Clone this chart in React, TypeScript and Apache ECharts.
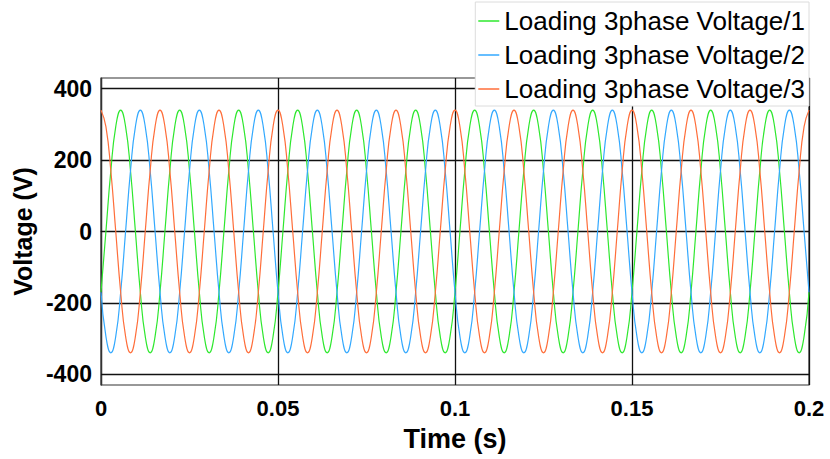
import React, { useEffect, useRef } from "react";
import * as echarts from "echarts";

// Sampling interval of the recorded waveform (s) – one sample every 30° at 60 Hz
const sampleStep = 1 / 720;

const seriesNames = [
  "Loading 3phase Voltage/1",
  "Loading 3phase Voltage/2",
  "Loading 3phase Voltage/3",
];

// Phase 1 (green) voltage samples, V
const voltage1 = [
  -170, 0, 170, 294, 340, 294, 170, 0, -170, -294, -340, -294,
  -170, 0, 170, 294, 340, 294, 170, 0, -170, -294, -340, -294,
  -170, 0, 170, 294, 340, 294, 170, 0, -170, -294, -340, -294,
  -170, 0, 170, 294, 340, 294, 170, 0, -170, -294, -340, -294,
  -170, 0, 170, 294, 340, 294, 170, 0, -170, -294, -340, -294,
  -170, 0, 170, 294, 340, 294, 170, 0, -170, -294, -340, -294,
  -170, 0, 170, 294, 340, 294, 170, 0, -170, -294, -340, -294,
  -170, 0, 170, 294, 340, 294, 170, 0, -170, -294, -340, -294,
  -170, 0, 170, 294, 340, 294, 170, 0, -170, -294, -340, -294,
  -170, 0, 170, 294, 340, 294, 170, 0, -170, -294, -340, -294,
  -170, 0, 170, 294, 340, 294, 170, 0, -170, -294, -340, -294,
  -170, 0, 170, 294, 340, 294, 170, 0, -170, -294, -340, -294,
  -170,
];

// Phase 2 (blue) voltage samples, V
const voltage2 = [
  -170, -294, -340, -294, -170, 0, 170, 294, 340, 294, 170, 0,
  -170, -294, -340, -294, -170, 0, 170, 294, 340, 294, 170, 0,
  -170, -294, -340, -294, -170, 0, 170, 294, 340, 294, 170, 0,
  -170, -294, -340, -294, -170, 0, 170, 294, 340, 294, 170, 0,
  -170, -294, -340, -294, -170, 0, 170, 294, 340, 294, 170, 0,
  -170, -294, -340, -294, -170, 0, 170, 294, 340, 294, 170, 0,
  -170, -294, -340, -294, -170, 0, 170, 294, 340, 294, 170, 0,
  -170, -294, -340, -294, -170, 0, 170, 294, 340, 294, 170, 0,
  -170, -294, -340, -294, -170, 0, 170, 294, 340, 294, 170, 0,
  -170, -294, -340, -294, -170, 0, 170, 294, 340, 294, 170, 0,
  -170, -294, -340, -294, -170, 0, 170, 294, 340, 294, 170, 0,
  -170, -294, -340, -294, -170, 0, 170, 294, 340, 294, 170, 0,
  -170,
];

// Phase 3 (orange) voltage samples, V
const voltage3 = [
  340, 294, 170, 0, -170, -294, -340, -294, -170, 0, 170, 294,
  340, 294, 170, 0, -170, -294, -340, -294, -170, 0, 170, 294,
  340, 294, 170, 0, -170, -294, -340, -294, -170, 0, 170, 294,
  340, 294, 170, 0, -170, -294, -340, -294, -170, 0, 170, 294,
  340, 294, 170, 0, -170, -294, -340, -294, -170, 0, 170, 294,
  340, 294, 170, 0, -170, -294, -340, -294, -170, 0, 170, 294,
  340, 294, 170, 0, -170, -294, -340, -294, -170, 0, 170, 294,
  340, 294, 170, 0, -170, -294, -340, -294, -170, 0, 170, 294,
  340, 294, 170, 0, -170, -294, -340, -294, -170, 0, 170, 294,
  340, 294, 170, 0, -170, -294, -340, -294, -170, 0, 170, 294,
  340, 294, 170, 0, -170, -294, -340, -294, -170, 0, 170, 294,
  340, 294, 170, 0, -170, -294, -340, -294, -170, 0, 170, 294,
  340,
];

const yTicks = [-400, -200, 0, 200, 400];
const xTicks = [0, 0.05, 0.1, 0.15, 0.2];

const colors = ["#2ee82e", "#33a9ff", "#ff6e3a"];
const FONT = "Liberation Sans, Arial, sans-serif";

export default function App() {
  const ref = useRef<HTMLDivElement>(null);

  useEffect(() => {
    if (!ref.current) return;
    const chart = echarts.init(ref.current, null, { renderer: "svg" });
    const toPairs = (vals: number[]) =>
      vals.map((v, i) => [Number((i * sampleStep).toFixed(6)), v]);
    const all = [voltage1, voltage2, voltage3];

    chart.setOption({
      animation: false,
      backgroundColor: "#ffffff",
      textStyle: { fontFamily: FONT },
      grid: {
        left: 101,
        right: 21,
        top: 78,
        bottom: 74,
        show: true,
        borderColor: "#333",
        borderWidth: 1.2,
        backgroundColor: "transparent",
      },
      legend: {
        data: seriesNames,
        orient: "vertical",
        right: 21,
        top: 2,
        padding: [5, 4, 3, 3],
        itemWidth: 21,
        itemHeight: 1.5,
        itemGap: 6,
        icon: "rect",
        backgroundColor: "#ffffff",
        borderColor: "#dcdcdc",
        borderWidth: 1,
        textStyle: {
          fontFamily: FONT,
          fontSize: 26,
          color: "#000",
          lineHeight: 28,
        },
        z: 10,
      },
      xAxis: {
        type: "value",
        min: xTicks[0],
        max: xTicks[xTicks.length - 1],
        interval: 0.05,
        name: "Time (s)",
        nameLocation: "middle",
        nameGap: 40,
        nameTextStyle: {
          fontFamily: FONT,
          fontSize: 27,
          fontWeight: "bold",
          color: "#000",
        },
        axisLine: { show: true, lineStyle: { color: "#333", width: 1.2 } },
        axisTick: { show: false },
        axisLabel: {
          fontFamily: FONT,
          fontSize: 22,
          fontWeight: "bold",
          color: "#000",
          margin: 12,
          formatter: (v: number) => String(Number(v.toFixed(4))),
        },
        splitLine: { show: true, lineStyle: { color: "#111", width: 1.3 } },
      },
      yAxis: {
        type: "value",
        min: -430,
        max: 430,
        name: "Voltage (V)",
        nameLocation: "middle",
        nameGap: 60,
        nameTextStyle: {
          fontFamily: FONT,
          fontSize: 25,
          fontWeight: "bold",
          color: "#000",
        },
        axisLine: { show: true, lineStyle: { color: "#333", width: 1.2 } },
        axisTick: { show: false, customValues: yTicks },
        axisLabel: {
          customValues: yTicks,
          fontFamily: FONT,
          fontSize: 23,
          fontWeight: "bold",
          color: "#000",
          margin: 9,
        },
        splitLine: { show: false },
      },
      series: all.map((vals, idx) => ({
        name: seriesNames[idx],
        type: "line",
        data: toPairs(vals),
        showSymbol: false,
        smooth: 0.5,
        lineStyle: { color: colors[idx], width: 1.2 },
        itemStyle: { color: colors[idx] },
        emphasis: { disabled: true },
        z: 3 + idx,
        markLine:
          idx === 0
            ? {
                silent: true,
                symbol: "none",
                label: { show: false },
                lineStyle: { color: "#111", width: 1.3, type: "solid" },
                data: yTicks.map((y) => ({ yAxis: y })),
                z: 1,
              }
            : undefined,
      })),
    });

    return () => chart.dispose();
  }, []);

  return (
    <div
      ref={ref}
      style={{ position: "fixed", left: 0, top: 0, width: 830, height: 459 }}
    />
  );
}
